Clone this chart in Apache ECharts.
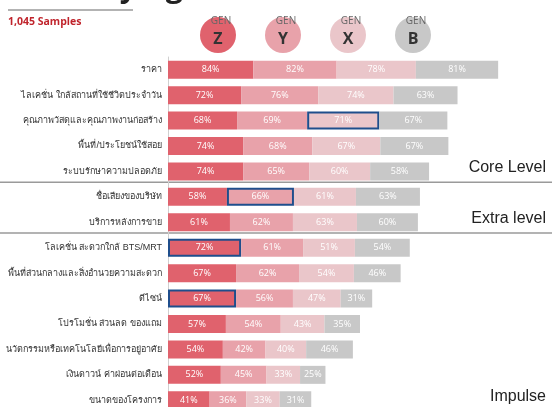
<!DOCTYPE html>
<html>
<head>
<meta charset="utf-8">
<script src="https://cdn.jsdelivr.net/npm/echarts@6/dist/echarts.min.js"></script>
<style>
  html, body { margin: 0; padding: 0; background: #fff; }
  #main { width: 552px; height: 407px; }
</style>
</head>
<body>
<div id="main"></div>
<script>
// factors, top row first
var factors = [
  "ราคา",
  "ไลเคชั่น ใกล้สถานที่ใช้ชีวิตประจำวัน",
  "คุณภาพวัสดุและคุณภาพงานก่อสร้าง",
  "พื้นที่/ประโยชน์ใช้สอย",
  "ระบบรักษาความปลอดภัย",
  "ชื่อเสียงของบริษัท",
  "บริการหลังการขาย",
  "โลเคชั่น สะดวกใกล้ BTS/MRT",
  "พื้นที่ส่วนกลางและสิ่งอำนวยความสะดวก",
  "ดีไซน์",
  "โปรโมชั่น ส่วนลด ของแถม",
  "นวัตกรรมหรือเทคโนโลยีเพื่อการอยู่อาศัย",
  "เงินดาวน์ ค่าผ่อนต่อเดือน",
  "ขนาดของโครงการ"
];
var genZ = [84, 72, 68, 74, 74, 58, 61, 72, 67, 67, 57, 54, 52, 41];
var genY = [82, 76, 69, 68, 65, 66, 62, 61, 62, 56, 54, 42, 45, 36];
var genX = [78, 74, 71, 67, 60, 61, 63, 51, 54, 47, 43, 40, 33, 33];
var genB = [81, 63, 67, 67, 58, 63, 60, 54, 46, 31, 35, 46, 25, 31];
var gens = ["Z", "Y", "X", "B"];
var genColors = ["#e0626d", "#e8a2aa", "#eac6ca", "#c8c8c8"];
// highlighted cells: [generation index, factor index]
var highlights = [[2, 2], [1, 5], [0, 7], [0, 9]];
var sections = ["Core Level", "Extra level", "Impulse"];
var sectionEnds = [4, 6, 13];

var chart = echarts.init(document.getElementById("main"));

function makeSeries(vals, g) {
  return {
    name: gens[g],
    type: "bar",
    stack: "all",
    barWidth: 18,
    itemStyle: { color: genColors[g] },
    label: {
      show: true,
      formatter: "{c}%",
      color: "#fff",
      fontSize: 9,
      fontFamily: "Open Sans"
    },
    data: vals.map(function (v, i) {
      var hit = highlights.some(function (h) { return h[0] === g && h[1] === i; });
      if (!hit) return v;
      return { value: v, itemStyle: { borderColor: "#1f4e8c", borderWidth: 2 } };
    })
  };
}

var option = {
  animation: false,
  grid: { left: 168, right: 0, top: 57, height: 356, outerBoundsMode: "none", containLabel: false },
  xAxis: { type: "value", min: 0, max: 378, show: false },
  yAxis: {
    type: "category",
    inverse: true,
    data: factors,
    axisLine: { show: true, lineStyle: { color: "#d0d0d0", width: 1 } },
    axisTick: { show: false },
    axisLabel: { color: "#333", fontSize: 9, margin: 6 }
  },
  series: [
    makeSeries(genZ, 0),
    makeSeries(genY, 1),
    makeSeries(genX, 2),
    makeSeries(genB, 3)
  ]
};
chart.setOption(option);

// decorations placed from the axis scale
var rowY = function (i) { return chart.convertToPixel({ yAxisIndex: 0 }, factors[i]); };
var graphics = [
  { type: "text", left: 80, top: -27, style: { text: "Buying", font: "bold 30px Open Sans", fill: "#222" } },
  { type: "line", shape: { x1: 8, y1: 10, x2: 133, y2: 10 }, style: { stroke: "#9a9a9a", lineWidth: 1.5 } },
  { type: "text", left: 8, top: 17, style: { text: "1,045 Samples", font: "bold 10.5px Open Sans", fill: "#c0242c" } }
];
gens.forEach(function (g, k) {
  var cx = 218 + k * 65;
  graphics.push({ type: "circle", shape: { cx: cx, cy: 35, r: 18 }, style: { fill: genColors[k] } });
  graphics.push({ type: "text", x: cx + 3, y: 21, style: { text: "GEN", font: "10px Open Sans", fill: "#666", align: "center", verticalAlign: "middle" } });
  graphics.push({ type: "text", x: cx, y: 39, style: { text: g, font: "bold 16px Open Sans", fill: "#333", align: "center", verticalAlign: "middle" } });
});
sectionEnds.forEach(function (end, s) {
  if (s < sectionEnds.length - 1) {
    var y = (rowY(end) + rowY(end + 1)) / 2 - 2;
    graphics.push({ type: "line", shape: { x1: 0, y1: y, x2: 552, y2: y }, style: { stroke: "#9a9a9a", lineWidth: 1.5 } });
  }
  var ty = rowY(end) - 4;
  graphics.push({ type: "text", x: 546, y: ty, style: { text: sections[s], font: "16px Liberation Sans", fill: "#222", align: "right", verticalAlign: "middle" } });
});
chart.setOption({ graphic: graphics });
</script>
</body>
</html>
